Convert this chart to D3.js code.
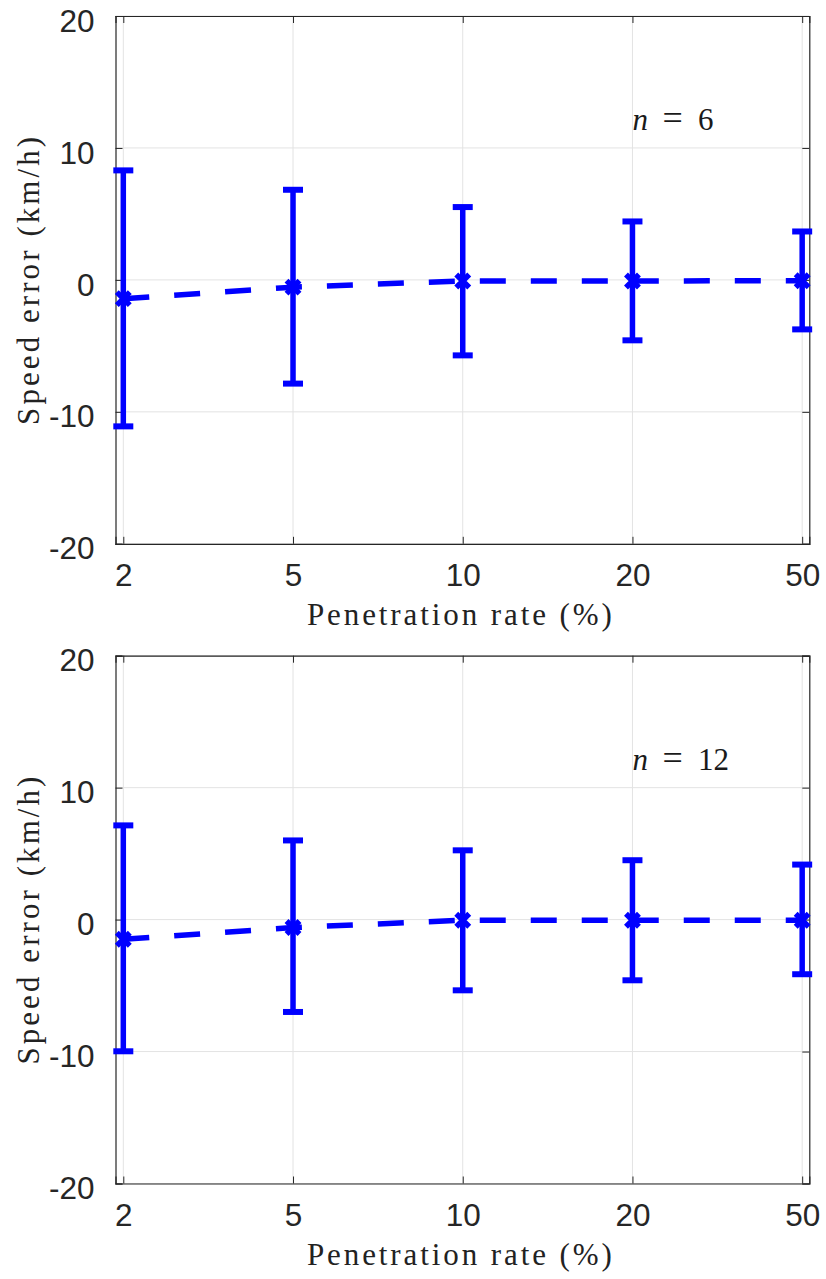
<!DOCTYPE html>
<html>
<head>
<meta charset="utf-8">
<script src="https://cdn.jsdelivr.net/npm/d3@7"></script>
<style>
  html, body { margin: 0; padding: 0; background: #fff; }
  svg { display: block; }
</style>
</head>
<body>
<svg id="chart" width="826" height="1279"></svg>
<script>
// ---- data ----
const categories = ["2", "5", "10", "20", "50"];
const yTicks = [-20, -10, 0, 10, 20];
const panelLabels = ["6", "12"];
const mean6  = [-1.42, -0.55, -0.08, -0.08, -0.06];
const upper6 = [8.30, 6.83, 5.52, 4.43, 3.67];
const lower6 = [-11.10, -7.86, -5.72, -4.58, -3.75];
const mean12  = [-1.49, -0.60, -0.05, -0.05, -0.05];
const upper12 = [7.14, 6.00, 5.25, 4.50, 4.17];
const lower12 = [-9.98, -7.00, -5.36, -4.60, -4.14];
const xLabel = "Penetration rate (%)";
const yLabel = "Speed error (km/h)";

const panels = [
  { n: panelLabels[0], mean: mean6, upper: upper6, lower: lower6, top: 16 },
  { n: panelLabels[1], mean: mean12, upper: upper12, lower: lower12, top: 655.7 }
];

const svg = d3.select("#chart");
const left = 115.5, right = 809.3, plotH = 527.8;
const blue = "#0000ff", axisCol = "#262626", gridCol = "#e3e3e3";
const serif = "'Liberation Serif', 'Times New Roman', serif";

const x = d3.scaleLinear().domain([-0.046, 4.042]).range([left, right]);

panels.forEach(p => {
  const top = p.top, bottom = top + plotH;
  const y = d3.scaleLinear().domain([-20, 20]).range([bottom, top]);
  const g = svg.append("g");

  // grid
  g.selectAll(".gx").data(categories).enter().append("line")
    .attr("x1", (d, i) => x(i)).attr("x2", (d, i) => x(i))
    .attr("y1", top).attr("y2", bottom)
    .attr("stroke", gridCol).attr("stroke-width", 1);
  g.selectAll(".gy").data(yTicks).enter().append("line")
    .attr("x1", left).attr("x2", right)
    .attr("y1", d => y(d)).attr("y2", d => y(d))
    .attr("stroke", gridCol).attr("stroke-width", 1);

  // axes (box with inward ticks)
  const xIdx = categories.map((c, i) => i);
  const axB = d3.axisBottom(x).tickValues(xIdx).tickSize(-7).tickFormat(i => categories[i]).tickPadding(20);
  const axT = d3.axisTop(x).tickValues(xIdx).tickSize(-7).tickFormat("");
  const axL = d3.axisLeft(y).tickValues(yTicks).tickSize(-7).tickPadding(21).tickFormat(d => String(d));
  const axR = d3.axisRight(y).tickValues(yTicks).tickSize(-7).tickFormat("");

  const styleAxis = sel => {
    sel.select(".domain").attr("stroke", axisCol).attr("stroke-width", 1.2);
    sel.selectAll(".tick line").attr("stroke", axisCol).attr("stroke-width", 1);
    sel.selectAll(".tick text").attr("fill", axisCol)
      .style("font-family", "'Liberation Sans', Arial, Helvetica, sans-serif")
      .style("font-size", "31.5px");
  };
  const gb = g.append("g").attr("transform", `translate(0,${bottom})`).call(axB).call(styleAxis);
  gb.selectAll(".tick text").attr("dy", "0.71em");
  g.append("g").attr("transform", `translate(0,${top})`).call(axT).call(styleAxis);
  const gl = g.append("g").attr("transform", `translate(${left},0)`).call(axL).call(styleAxis);
  gl.selectAll(".tick text").attr("dy", "0.48em");
  g.append("g").attr("transform", `translate(${right},0)`).call(axR).call(styleAxis);

  // dashed mean line
  const line = d3.line().x((d, i) => x(i)).y(d => y(d));
  g.append("path").datum(p.mean)
    .attr("d", line).attr("fill", "none")
    .attr("stroke", blue).attr("stroke-width", 5.5)
    .attr("stroke-dasharray", "26,25");

  // error bars
  const capW = 10;
  const eb = g.selectAll(".eb").data(p.mean).enter().append("g");
  eb.append("line")
    .attr("x1", (d, i) => x(i)).attr("x2", (d, i) => x(i))
    .attr("y1", (d, i) => y(p.upper[i])).attr("y2", (d, i) => y(p.lower[i]))
    .attr("stroke", blue).attr("stroke-width", 5.5);
  eb.append("line")
    .attr("x1", (d, i) => x(i) - capW).attr("x2", (d, i) => x(i) + capW)
    .attr("y1", (d, i) => y(p.upper[i])).attr("y2", (d, i) => y(p.upper[i]))
    .attr("stroke", blue).attr("stroke-width", 6);
  eb.append("line")
    .attr("x1", (d, i) => x(i) - capW).attr("x2", (d, i) => x(i) + capW)
    .attr("y1", (d, i) => y(p.lower[i])).attr("y2", (d, i) => y(p.lower[i]))
    .attr("stroke", blue).attr("stroke-width", 6);
  // x markers
  const m = 6.5;
  eb.append("path")
    .attr("d", (d, i) => {
      const cx = x(i), cy = y(d);
      return `M${cx - m},${cy - m}L${cx + m},${cy + m}M${cx - m},${cy + m}L${cx + m},${cy - m}`;
    })
    .attr("stroke", blue).attr("stroke-width", 5.5).attr("fill", "none");

  // n label
  const lx = x(3), ly = top + 114;
  const lab = g.append("text")
    .attr("x", lx).attr("y", ly)
    .attr("fill", "#1a1a1a")
    .style("font-family", serif)
    .style("font-size", "31px");
  lab.append("tspan").attr("x", lx).style("font-style", "italic").text("n");
  lab.append("tspan").attr("x", lx + 30).style("font-size", "36px").text("=");
  lab.append("tspan").attr("x", lx + 65.5).text(p.n);

  // axis labels
  g.append("text")
    .attr("x", (left + right) / 2 - 3).attr("y", bottom + 81)
    .attr("text-anchor", "middle").attr("fill", "#222")
    .style("font-family", serif)
    .style("font-size", "31px")
    .attr("textLength", 305).attr("lengthAdjust", "spacing")
    .text(xLabel);
  g.append("text")
    .attr("transform", `translate(39,${(top + bottom) / 2 + 1}) rotate(-90)`)
    .attr("text-anchor", "middle").attr("fill", "#222")
    .style("font-family", serif)
    .style("font-size", "31px")
    .attr("textLength", 288).attr("lengthAdjust", "spacing")
    .text(yLabel);
});
</script>
</body>
</html>
